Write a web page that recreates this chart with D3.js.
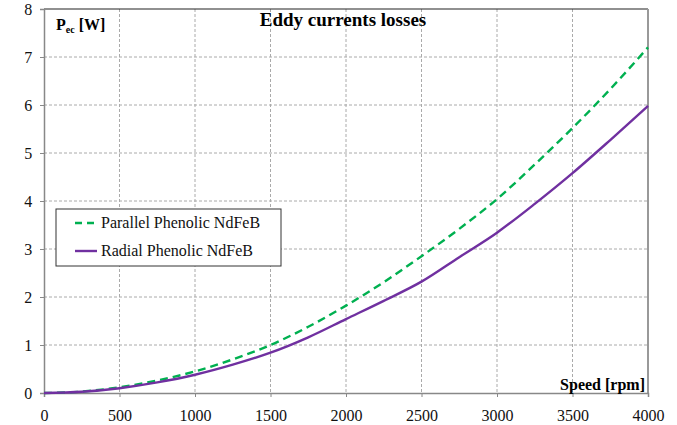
<!DOCTYPE html>
<html><head><meta charset="utf-8">
<script src="https://cdn.jsdelivr.net/npm/d3@7"></script>
<style>body{margin:0;background:#fff}svg{display:block}</style>
</head><body><svg id="c" width="677" height="425"></svg>
<script>
const speeds = [0,250,500,750,1000,1250,1500,1750,2000,2250,2500,2750,3000,3250,3500,3750,4000];
const parallel = [0,0.03,0.12,0.26,0.45,0.7,1.0,1.38,1.82,2.31,2.85,3.42,4.04,4.76,5.52,6.33,7.2];
const radial = [0,0.025,0.1,0.22,0.38,0.59,0.84,1.16,1.54,1.92,2.32,2.83,3.34,3.94,4.58,5.27,5.98];
const xTicks = [0,500,1000,1500,2000,2500,3000,3500,4000];
const yTicks = [0,1,2,3,4,5,6,7,8];
const seriesNames = ["Parallel Phenolic NdFeB","Radial Phenolic NdFeB"];

const FONT = "'Liberation Serif', 'Times New Roman', Times, 'DejaVu Serif', serif";
const svg = d3.select("#c").style("font-family",FONT);
const L=44,R=648,T=9,B=393;
const x = d3.scaleLinear().domain([0,4000]).range([L,R]);
const y = d3.scaleLinear().domain([0,8]).range([B,T]);

// grid
svg.append("g").selectAll("line").data(xTicks.slice(1,-1)).join("line")
  .attr("x1",d=>x(d)).attr("x2",d=>x(d)).attr("y1",T).attr("y2",B)
  .attr("stroke","#aaa").attr("stroke-dasharray","3,2").attr("stroke-width",1);
svg.append("g").selectAll("line").data(yTicks.slice(1,-1)).join("line")
  .attr("y1",d=>y(d)).attr("y2",d=>y(d)).attr("x1",L).attr("x2",R)
  .attr("stroke","#aaa").attr("stroke-dasharray","3,2").attr("stroke-width",1);

// borders
svg.append("line").attr("x1",L).attr("x2",R).attr("y1",T).attr("y2",T).attr("stroke","#222").attr("stroke-width",1.2);
svg.append("line").attr("x1",R).attr("x2",R).attr("y1",T).attr("y2",B).attr("stroke","#999").attr("stroke-width",2);

// axes
const xa = svg.append("g").attr("transform",`translate(0,${B})`).call(d3.axisBottom(x).tickValues(xTicks).tickSize(4).tickFormat(d3.format("d")));
const ya = svg.append("g").attr("transform",`translate(${L},0)`).call(d3.axisLeft(y).tickValues(yTicks).tickSize(4).tickFormat(d3.format("d")));
[xa,ya].forEach(a=>{
  a.attr("font-family",null).attr("font-size",null);
  a.select(".domain").attr("stroke","#888").attr("stroke-width",1.5);
  a.selectAll(".tick line").attr("stroke","#888");
  a.selectAll("text").style("font-family",FONT).style("font-size","16px").attr("fill","#111");
});
xa.selectAll("text").attr("y",28).attr("dy",0);
ya.selectAll("text").attr("dx","-0.3em");

// lines
const line = d3.line().x((d,i)=>x(speeds[i])).y(d=>y(d)).curve(d3.curveMonotoneX);
svg.append("path").datum(parallel).attr("d",line).attr("fill","none").attr("stroke","#00b050").attr("stroke-width",2.4).attr("stroke-dasharray","8,5");
svg.append("path").datum(radial).attr("d",line).attr("fill","none").attr("stroke","#7030a0").attr("stroke-width",2.4);

// titles
svg.append("text").attr("x",343).attr("y",26).attr("text-anchor","middle").style("font-size","19px").attr("font-weight","bold").text("Eddy currents losses");
const yl = svg.append("text").attr("x",56).attr("y",30).style("font-size","16px").attr("font-weight","bold");
yl.append("tspan").text("P");
yl.append("tspan").style("font-size","10px").attr("dy",3).text("ec");
yl.append("tspan").attr("dy",-3).text(" [W]");
svg.append("text").attr("x",645).attr("y",390).attr("text-anchor","end").style("font-size","16px").attr("font-weight","bold").text("Speed [rpm]");

// legend
const lg = svg.append("g");
lg.append("rect").attr("x",56).attr("y",209).attr("width",225).attr("height",57).attr("fill","#fff").attr("stroke","#333").attr("stroke-width",1);
const styles=[{c:"#00b050",d:"7,5"},{c:"#7030a0",d:null}];
seriesNames.forEach((n,i)=>{
  const yy=223+i*28;
  lg.append("line").attr("x1",75).attr("x2",97).attr("y1",yy).attr("y2",yy).attr("stroke",styles[i].c).attr("stroke-width",2.4).attr("stroke-dasharray",styles[i].d);
  lg.append("text").attr("x",101).attr("y",yy+5).style("font-size","16px").attr("fill","#111").text(n);
});
</script></body></html>
